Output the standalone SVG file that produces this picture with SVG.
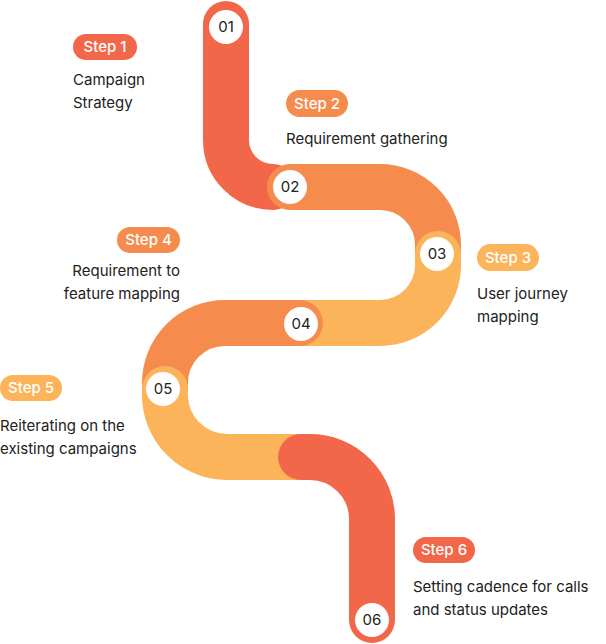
<svg xmlns="http://www.w3.org/2000/svg" width="606" height="644" viewBox="0 0 606 644">
<style>
.seg{fill:none;stroke-width:46;stroke-linecap:round}
.r{stroke:#F2674A}.o{stroke:#F58C4E}.y{stroke:#FBB45A}
.dot{fill:#fff}
.num{font-family:Inter,"Noto Sans",sans-serif;font-size:15px;fill:#222;text-anchor:middle}
.pill{font-family:Inter,"Noto Sans",sans-serif;font-size:15px;fill:#fff;font-weight:500;text-anchor:middle}
.desc{font-family:Inter,"Noto Sans",sans-serif;font-size:15px;fill:#222}
</style>
<g id="connectors">
<path class="seg r" d="M226,24 V140 A47,47 0 0 0 273,187"/>
<path class="seg o" d="M290,187 H380 A58,58 0 0 1 438,245 V254"/>
<path class="seg y" d="M438,254 V265 A58,58 0 0 1 380,323 H300"/>
<path class="seg o" d="M300,323 H225 A60,60 0 0 0 165,383 V389"/>
<path class="seg y" d="M165,389 V395 A62,62 0 0 0 227,457 H301"/>
<path class="seg r" d="M301,457 H310 A62,62 0 0 1 372,519 V620"/>
</g>
<g id="n1"><circle class="dot" cx="226" cy="27" r="17"/><text class="num" x="226" y="32">01</text>
<rect x="73" y="34" width="64" height="26" rx="13" fill="#F2674A"/><text class="pill" x="105" y="52">Step 1</text>
<text class="desc" x="73" y="85">Campaign</text><text class="desc" x="73" y="108">Strategy</text></g>
<g id="n2"><circle class="dot" cx="290" cy="187" r="17"/><text class="num" x="290" y="192">02</text>
<rect x="286" y="90" width="62" height="27" rx="13.5" fill="#F58C4E"/><text class="pill" x="317" y="109">Step 2</text>
<text class="desc" x="286" y="144">Requirement gathering</text></g>
<g id="n3"><circle class="dot" cx="437" cy="254" r="17"/><text class="num" x="437" y="259">03</text>
<rect x="477" y="244" width="62" height="27" rx="13.5" fill="#FBB45A"/><text class="pill" x="508" y="263">Step 3</text>
<text class="desc" x="477" y="299">User journey</text><text class="desc" x="477" y="322">mapping</text></g>
<g id="n4"><circle class="dot" cx="301" cy="324" r="17"/><text class="num" x="301" y="329">04</text>
<rect x="117" y="227" width="63" height="26" rx="13" fill="#F58C4E"/><text class="pill" x="148.5" y="245">Step 4</text>
<text class="desc" x="180" y="276" text-anchor="end">Requirement to</text><text class="desc" x="180" y="299" text-anchor="end">feature mapping</text></g>
<g id="n5"><circle class="dot" cx="163" cy="389" r="17"/><text class="num" x="163" y="394">05</text>
<rect x="0" y="375" width="62" height="26" rx="13" fill="#FBB45A"/><text class="pill" x="31" y="393">Step 5</text>
<text class="desc" x="0" y="431">Reiterating on the</text><text class="desc" x="0" y="454">existing campaigns</text></g>
<g id="n6"><circle class="dot" cx="372" cy="620" r="17"/><text class="num" x="372" y="625">06</text>
<rect x="413" y="537" width="62" height="26" rx="13" fill="#F2674A"/><text class="pill" x="444" y="555">Step 6</text>
<text class="desc" x="413" y="592">Setting cadence for calls</text><text class="desc" x="413" y="615">and status updates</text></g>
</svg>
